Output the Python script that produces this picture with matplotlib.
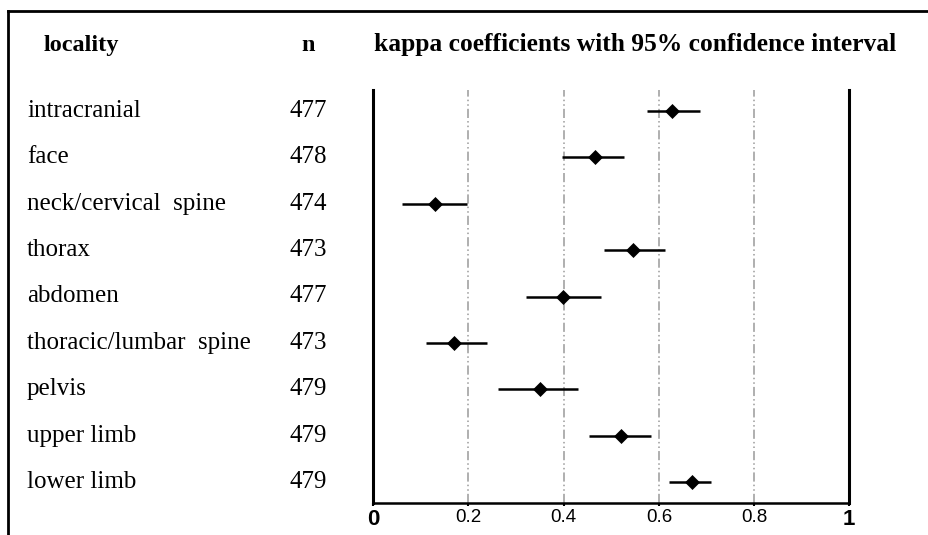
import matplotlib
matplotlib.use("Agg")
import matplotlib.pyplot as plt
import matplotlib.transforms as mtransforms
from matplotlib.lines import Line2D

# data
localities = ["intracranial", "face", "neck/cervical  spine", "thorax", "abdomen",
              "thoracic/lumbar  spine", "pelvis", "upper limb", "lower limb"]
n_values = [477, 478, 474, 473, 477, 473, 479, 479, 479]
kappa = [0.628, 0.466, 0.129, 0.546, 0.399, 0.170, 0.350, 0.520, 0.669]
ci_low = [0.576, 0.396, 0.060, 0.485, 0.320, 0.110, 0.261, 0.454, 0.622]
ci_high = [0.686, 0.527, 0.196, 0.613, 0.478, 0.239, 0.431, 0.583, 0.709]
tick_values = [0, 0.2, 0.4, 0.6, 0.8, 1]
tick_labels = ["0", "0.2", "0.4", "0.6", "0.8", "1"]

W, H = 929, 535
fig = plt.figure(figsize=(W / 100, H / 100), dpi=100)
fig.patch.set_facecolor("white")

ax = fig.add_axes([373.3 / W, 1 - 503 / H, 476 / W, 413 / H])
rows = list(range(len(localities)))

# confidence intervals and point estimates
ax.hlines(rows, ci_low, ci_high, color="black", lw=1.8)
ax.plot(kappa, rows, "D", color="black", ms=7.5, mew=0.5, ls="none")

# gridlines
for v in tick_values[1:-1]:
    ax.axvline(v, color="#9a9a9a", lw=1.1, ls=(0, (6, 2, 1, 2, 1, 2)), zorder=0)

ax.set_xlim(0, 1)
ax.set_ylim(len(localities) - 0.55, -0.45)
ax.set_yticks([])
ax.set_xticks(tick_values)
ax.set_xticklabels(tick_labels, family="Liberation Sans", fontsize=13.5)
ax.tick_params(axis="x", length=2, width=1.5, pad=2.5)
for lbl in ax.get_xticklabels():
    if lbl.get_text() in ("0", "1"):
        lbl.set_fontweight("bold")
        lbl.set_fontsize(16)

ax.spines["top"].set_visible(False)
for s in ("left", "right"):
    ax.spines[s].set_linewidth(2.2)
ax.spines["bottom"].set_linewidth(1.8)

# left-hand table
trans = mtransforms.blended_transform_factory(fig.transFigure, ax.transData)
for i, (name, n) in enumerate(zip(localities, n_values)):
    fig.text(27 / W, i, name, transform=trans, family="Liberation Serif",
             fontsize=18, va="center", ha="left")
    fig.text(290 / W, i, str(n), transform=trans, family="Liberation Serif",
             fontsize=18, va="center", ha="left")

# headers
hy = 1 - 51 / H
fig.text(44 / W, hy, "locality", family="Liberation Serif", fontweight="bold",
         fontsize=17.5, va="baseline", ha="left")
fig.text(308 / W, hy, "n", family="Liberation Serif", fontweight="bold",
         fontsize=17.5, va="baseline", ha="center")
fig.text(374 / W, hy, "kappa coefficients with 95% confidence interval",
         family="Liberation Serif", fontweight="bold", fontsize=18.4,
         va="baseline", ha="left")

# outer frame (top and left)
fig.add_artist(Line2D([8 / W, 1], [1 - 11 / H, 1 - 11 / H], color="black", lw=2))
fig.add_artist(Line2D([8 / W, 8 / W], [0, 1 - 11 / H], color="black", lw=2))

fig.savefig("out.png", dpi=100)
